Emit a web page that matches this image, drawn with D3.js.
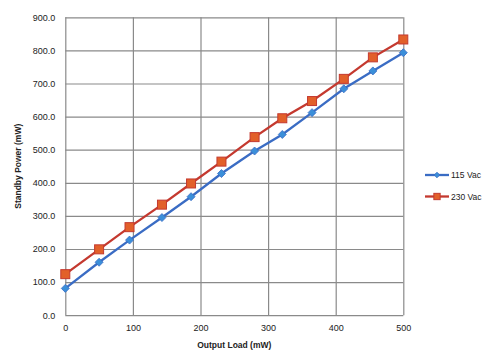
<!DOCTYPE html>
<html>
<head>
<meta charset="utf-8">
<script src="https://cdn.jsdelivr.net/npm/d3@7"></script>
<style>
  body { margin: 0; background: #fff; }
  text { font-family: "Liberation Sans", Arial, sans-serif; fill: #222; }
</style>
</head>
<body>
<div id="chart"></div>
<script>
var width = 495
var height = 358

// output load (mW) for each measurement
var loads = [0, 50, 95, 143, 186, 231, 280, 321, 365, 412, 455, 500]
var power115 = [81, 160, 227, 295, 358, 428, 496, 546, 612, 684, 738, 793]
var power230 = [124, 199, 266, 334, 398, 464, 538, 595, 647, 714, 779, 833]
var seriesNames = ["115 Vac", "230 Vac"]
var xTicks = [0, 100, 200, 300, 400, 500]
var yTicks = [0, 100, 200, 300, 400, 500, 600, 700, 800, 900]

var margin = {left: 65.3, right: 91.7, top: 17.3, bottom: 42.8}

var x = d3.scaleLinear().domain([0, 500]).range([margin.left, width - margin.right])
var y = d3.scaleLinear().domain([0, 900]).range([height - margin.bottom, margin.top])

var svg = d3.select("#chart")
    .append("svg")
        .attr("width", width)
        .attr("height", height)

// gridlines
svg.append("g")
    .attr("transform", "translate(0," + (height - margin.bottom) + ")")
    .call(d3.axisBottom(x).tickValues(xTicks).tickSize(-(y(0) - y(900))).tickFormat(""))
    .call(function(g) {
        g.select(".domain").remove()
        g.selectAll("line").attr("stroke", "#8a8a8a").attr("stroke-width", 1.2)
    })

svg.append("g")
    .attr("transform", "translate(" + margin.left + ",0)")
    .call(d3.axisLeft(y).tickValues(yTicks).tickSize(-(x(500) - x(0))).tickFormat(""))
    .call(function(g) {
        g.select(".domain").remove()
        g.selectAll("line").attr("stroke", "#8a8a8a").attr("stroke-width", 1.2)
    })

// tick labels
svg.append("g")
    .attr("transform", "translate(0," + (height - margin.bottom) + ")")
    .call(d3.axisBottom(x).tickValues(xTicks).tickSize(0).tickPadding(9))
    .call(function(g) {
        g.select(".domain").remove()
        g.selectAll("text").attr("font-size", "9px").style("font-family", "Liberation Sans, Arial, sans-serif").attr("fill", "#222")
    })

svg.append("g")
    .attr("transform", "translate(" + margin.left + ",0)")
    .call(d3.axisLeft(y).tickValues(yTicks).tickSize(0).tickPadding(10).tickFormat(d3.format(".1f")))
    .call(function(g) {
        g.select(".domain").remove()
        g.selectAll("text").attr("font-size", "9px").style("font-family", "Liberation Sans, Arial, sans-serif").attr("fill", "#222")
    })

// axis titles
svg.append("text")
    .attr("x", (x(0) + x(500)) / 2)
    .attr("y", 348)
    .attr("text-anchor", "middle")
    .attr("font-size", "8.5px")
    .attr("font-weight", "bold")
    .text("Output Load (mW)")

svg.append("text")
    .attr("transform", "translate(21," + ((y(0) + y(900)) / 2) + ") rotate(-90)")
    .attr("text-anchor", "middle")
    .attr("font-size", "8.5px")
    .attr("font-weight", "bold")
    .text("Standby Power (mW)")

var series = [
    {name: seriesNames[0], values: power115, line: "#3a6cc4", fill: "#3b8fd9", shape: "diamond"},
    {name: seriesNames[1], values: power230, line: "#c4392f", fill: "#e2602a", shape: "square"}
]

var line = d3.line()
    .x(function(d) { return x(d[0]); })
    .y(function(d) { return y(d[1]); })

function drawMarker(g, s, k) {
    if (s.shape === "square") {
        g.append("rect")
            .attr("x", -4.5 * k).attr("y", -4.5 * k)
            .attr("width", 9 * k).attr("height", 9 * k)
            .attr("fill", s.fill)
            .attr("stroke", s.line)
            .attr("stroke-width", 1)
    } else {
        var r = 4 * k
        g.append("path")
            .attr("d", "M0," + (-r) + "L" + r + ",0L0," + r + "L" + (-r) + ",0Z")
            .attr("fill", s.fill)
            .attr("stroke", s.line)
            .attr("stroke-width", 0.8)
    }
}

series.forEach(function(s) {
    var pts = loads.map(function(l, i) { return [l, s.values[i]]; })
    svg.append("path")
        .datum(pts)
        .attr("d", line)
        .attr("fill", "none")
        .attr("stroke", s.line)
        .attr("stroke-width", 2.3)

    svg.append("g").selectAll("g")
        .data(pts)
        .enter()
        .append("g")
            .attr("transform", function(d) { return "translate(" + x(d[0]) + "," + y(d[1]) + ")"; })
            .each(function() { drawMarker(d3.select(this), s, 1); })
})

// legend
var legend = svg.append("g")
series.forEach(function(s, i) {
    var ly = 175 + i * 21.5
    legend.append("line")
        .attr("x1", 425).attr("x2", 449)
        .attr("y1", ly).attr("y2", ly)
        .attr("stroke", s.line)
        .attr("stroke-width", 2.3)
    var m = legend.append("g").attr("transform", "translate(437," + ly + ")")
    drawMarker(m, s, 0.7)
    legend.append("text")
        .attr("x", 451)
        .attr("y", ly + 3.2)
        .attr("font-size", "8.5px")
        .text(s.name)
})
</script>
</body>
</html>
